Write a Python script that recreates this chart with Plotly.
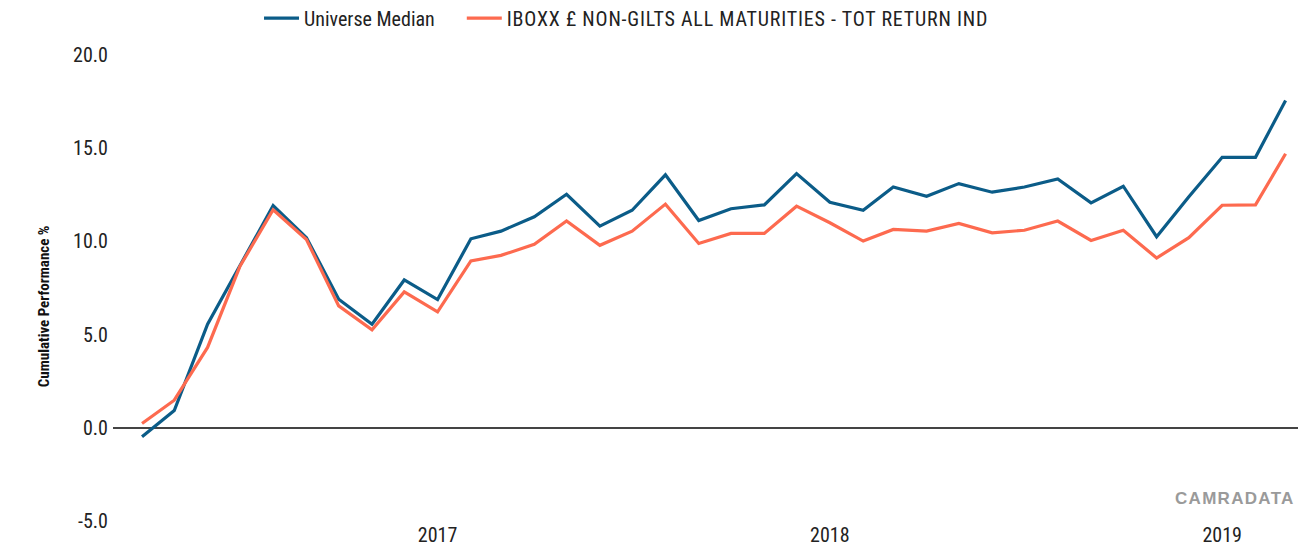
import plotly.graph_objects as go
import pandas as pd

dates = pd.date_range("2016-04-01", "2019-03-01", freq="MS")

universe_median = [-0.48, 0.93, 5.56, 8.7, 11.92, 10.2, 6.9, 5.56, 7.93, 6.88,
                   10.14, 10.55, 11.32, 12.53, 10.82, 11.67, 13.57, 11.12, 11.75, 11.96,
                   13.64, 12.1, 11.67, 12.92, 12.42, 13.1, 12.64, 12.92, 13.35, 12.07,
                   12.96, 10.25, 12.39, 14.51, 14.51, 17.56]

iboxx = [0.23, 1.48, 4.31, 8.65, 11.7, 10.1, 6.54, 5.26, 7.29, 6.22,
         8.95, 9.25, 9.84, 11.1, 9.79, 10.55, 12.0, 9.89, 10.43, 10.43,
         11.89, 11.0, 10.02, 10.64, 10.55, 10.96, 10.46, 10.6, 11.09, 10.05,
         10.6, 9.11, 10.2, 11.94, 11.96, 14.7]

series_names = ["Universe Median", "IBOXX £ NON-GILTS ALL MATURITIES - TOT RETURN IND"]
series_colors = ["#0b5c88", "#fd6a4f"]
series_spacing = ["0px", "0.8px"]
series_trail = ["22px", "0.8px"]

year_ticks = ["2017-01-01", "2018-01-01", "2019-01-01"]
year_labels = ["2017", "2018", "2019"]
y_ticks = [-5, 0, 5, 10, 15, 20]
y_labels = ["-5.0", "0.0", "5.0", "10.0", "15.0", "20.0"]

NARROW = "Roboto Condensed, Liberation Sans, sans-serif"

fig = go.Figure()
for name, vals, col, sp, tr in zip(series_names, [universe_median, iboxx], series_colors,
                                   series_spacing, series_trail):
    label = (f'<span style="letter-spacing:{sp}">{name[:-1]}</span>'
             f'<span style="letter-spacing:{tr}">{name[-1]}</span>')
    fig.add_trace(go.Scatter(x=dates, y=vals, mode="lines", name=label,
                             line=dict(color=col, width=3.2)))

fig.update_layout(
    width=1298, height=546,
    margin=dict(l=105, r=0, t=47, b=33, autoexpand=False),
    paper_bgcolor="white", plot_bgcolor="white",
    showlegend=True,
    legend=dict(orientation="h", x=0.1224, xanchor="left", y=1.079, yanchor="middle",
                font=dict(family=NARROW, size=20, color="#222"),
                itemwidth=35, tracegroupgap=0),
    font=dict(family=NARROW, size=20, color="#222"),
    xaxis=dict(type="date", range=["2016-03-05", "2019-03-20"],
               tickvals=year_ticks, ticktext=year_labels,
               showgrid=False, zeroline=False, showline=False, ticks="",
               tickfont=dict(family=NARROW, size=20, color="#222")),
    yaxis=dict(range=[-5, 20], tickvals=y_ticks, ticktext=y_labels,
               showgrid=False, zeroline=True, zerolinecolor="#444", zerolinewidth=1.5,
               showline=False, ticks="", ticklabelstandoff=4,
               tickfont=dict(family=NARROW, size=20, color="#222")),
    annotations=[
        dict(text="<b>Cumulative Performance %</b>", xref="paper", yref="paper",
             x=-0.067, y=0.461, textangle=-90, showarrow=False,
             font=dict(family=NARROW, size=15, color="#111")),
        dict(text='<b><span style="letter-spacing:1.3px">CAMRADATA</span></b>', xref="paper", yref="paper",
             x=0.9925, y=0.049, xanchor="right", yanchor="middle", showarrow=False,
             font=dict(family="Liberation Sans, Arial, sans-serif", size=17, color="#9a9a9a")),
    ],
)

fig.write_html("out.html")
